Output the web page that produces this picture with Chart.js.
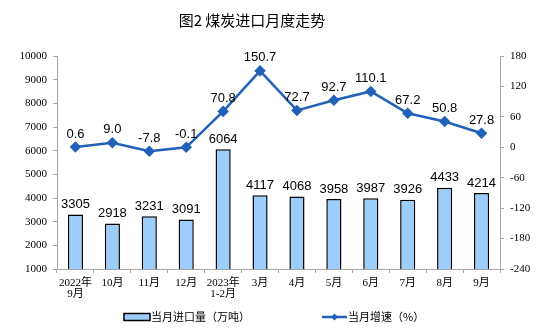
<!DOCTYPE html>
<html lang="zh-CN">
<head>
<meta charset="UTF-8">
<title>煤炭进口月度走势</title>
<script src="https://cdn.jsdelivr.net/npm/chart.js@4.4.1/dist/chart.umd.min.js"></script>
<style>
  html, body { margin: 0; padding: 0; background: #fff; }
  #coalChart { display: block; }
</style>
</head>
<body>
<canvas id="coalChart" width="550" height="336"></canvas>
<script>
// 월별 데이터
const months = [
  ["2022年", "9月"], "10月", "11月", "12月", ["2023年", "1-2月"],
  "3月", "4月", "5月", "6月", "7月", "8月", "9月"
];
const importVolume = [3305, 2918, 3231, 3091, 6064, 4117, 4068, 3958, 3987, 3926, 4433, 4214];
const growthRate = [0.6, 9.0, -7.8, -0.1, 70.8, 150.7, 72.7, 92.7, 110.1, 67.2, 50.8, 27.8];

const titleText = "图2 煤炭进口月度走势";
const legendBar = "当月进口量（万吨）";
const legendLine = "当月增速（%）";

document.addEventListener("DOMContentLoaded", function () {
  if (typeof Chart === "undefined") {
    console.error("[Chart] Chart.js is undefined");
    return;
  }

  const BAR_FILL = "#9dcdfb";
  const LINE_BLUE = "#2162b8";
  const AXIS_GRAY = "#a6a6a6";
  const CJK = '"Noto Sans CJK SC", sans-serif';
  const SERIF_CJK = '"Liberation Serif", "Noto Sans CJK SC", serif';
  const NUM = '"Liberation Sans", Arial, sans-serif';

  /* ---------- 값 라벨 (막대 위 / 점 위) ---------- */
  const valueLabels = {
    id: "valueLabels",
    afterDatasetsDraw(chart) {
      const ctx = chart.ctx;
      ctx.save();
      ctx.font = "13px " + NUM;
      ctx.fillStyle = "#000";
      ctx.textAlign = "center";
      ctx.textBaseline = "middle";

      // 0 = 선(증속), 1 = 막대(수입량)
      chart.getDatasetMeta(1).data.forEach((bar, i) => {
        ctx.fillText(String(importVolume[i]), bar.x, bar.y - 10);
      });
      chart.getDatasetMeta(0).data.forEach((pt, i) => {
        ctx.fillText(growthRate[i].toFixed(1), pt.x, pt.y - 13);
      });
      ctx.restore();
    }
  };

  /* ---------- 제목 + 범례 ---------- */
  const titleAndLegend = {
    id: "titleAndLegend",
    afterDraw(chart) {
      const ctx = chart.ctx;
      ctx.save();

      ctx.fillStyle = "#000";
      ctx.textAlign = "center";
      ctx.textBaseline = "middle";
      ctx.font = "15px " + CJK;
      ctx.fillText(titleText, 252, 20);

      // 막대 범례
      const ly = 317;
      ctx.fillStyle = BAR_FILL;
      ctx.fillRect(124, ly - 3.5, 26, 7);
      ctx.strokeStyle = "#000";
      ctx.lineWidth = 1.5;
      ctx.strokeRect(124, ly - 3.5, 26, 7);

      ctx.font = "11px " + CJK;
      ctx.fillStyle = "#000";
      ctx.textAlign = "left";
      ctx.fillText(legendBar, 151, ly);

      // 선 범례
      ctx.strokeStyle = LINE_BLUE;
      ctx.lineWidth = 2.5;
      ctx.beginPath();
      ctx.moveTo(322, ly);
      ctx.lineTo(347, ly);
      ctx.stroke();
      ctx.fillStyle = LINE_BLUE;
      ctx.beginPath();
      ctx.moveTo(334.5, ly - 3.5);
      ctx.lineTo(338, ly);
      ctx.lineTo(334.5, ly + 3.5);
      ctx.lineTo(331, ly);
      ctx.closePath();
      ctx.fill();

      ctx.fillStyle = "#000";
      ctx.fillText(legendLine, 348, ly);
      ctx.restore();
    }
  };

  const el = document.getElementById("coalChart");

  new Chart(el.getContext("2d"), {
    data: {
      labels: months,
      datasets: [
        {
          type: "line",
          label: legendLine,
          data: growthRate,
          yAxisID: "yRate",
          borderColor: LINE_BLUE,
          backgroundColor: LINE_BLUE,
          borderWidth: 2.5,
          pointStyle: "rectRot",
          pointRadius: 4,
          tension: 0,
          order: 0
        },
        {
          type: "bar",
          label: legendBar,
          data: importVolume,
          yAxisID: "yVol",
          backgroundColor: BAR_FILL,
          borderColor: "#000",
          borderWidth: 1.5,
          categoryPercentage: 1,
          barPercentage: 0.41,
          order: 1
        }
      ]
    },
    options: {
      responsive: false,
      animation: false,
      layout: { padding: { top: 56, left: 0, right: 0, bottom: 0 } },
      plugins: {
        legend: { display: false },
        title: { display: false },
        tooltip: { enabled: false }
      },
      scales: {
        x: {
          offset: true,
          grid: { offset: true, drawOnChartArea: false, tickLength: 4, color: AXIS_GRAY },
          border: { color: AXIS_GRAY, width: 1 },
          ticks: {
            color: "#000",
            font: { family: SERIF_CJK, size: 11, lineHeight: 1.0 },
            padding: 5,
            maxRotation: 0,
            autoSkip: false
          },
          afterFit(scale) { scale.height = 67; }
        },
        yVol: {
          position: "left",
          min: 1000,
          max: 10000,
          ticks: {
            stepSize: 1000,
            color: "#000",
            font: { family: SERIF_CJK, size: 11 },
            padding: 6,
            callback: (v) => String(v)
          },
          grid: { drawOnChartArea: false, tickLength: 4, color: AXIS_GRAY },
          border: { color: AXIS_GRAY, width: 1 },
          afterFit(scale) { scale.width = 57; }
        },
        yRate: {
          position: "right",
          min: -240,
          max: 180,
          ticks: {
            stepSize: 60,
            color: "#000",
            font: { family: SERIF_CJK, size: 11 },
            padding: 6,
            callback: (v) => String(v)
          },
          grid: { drawOnChartArea: false, tickLength: 4, color: AXIS_GRAY },
          border: { color: AXIS_GRAY, width: 1 },
          afterFit(scale) { scale.width = 50; }
        }
      }
    },
    plugins: [valueLabels, titleAndLegend]
  });
});
</script>
</body>
</html>
